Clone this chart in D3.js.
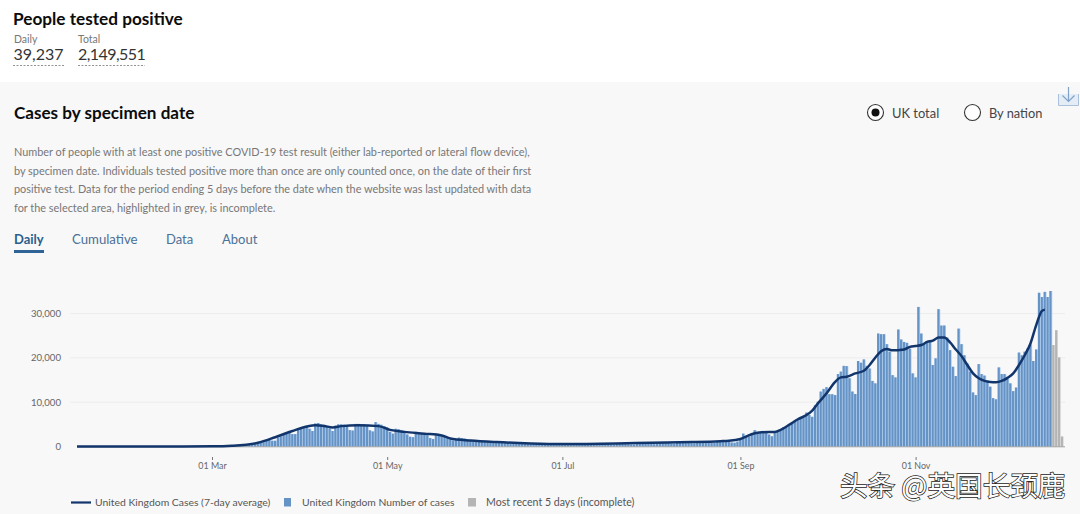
<!DOCTYPE html>
<html><head><meta charset="utf-8">
<script src="https://cdnjs.cloudflare.com/ajax/libs/d3/7.8.5/d3.min.js"></script>
<style>html,body{margin:0;padding:0;background:#fff}svg{display:block}text{font-family:Lato,"Noto Sans",sans-serif}</style>
</head><body><svg id="c" width="1080" height="514"></svg>
<script>
const jan=[0,0,0,0,0,0,0,0,0,0,0,0,0,0,0,0,2,1];
const feb=[0,0,1,0,0,0,0,1,2,1,0,1,0,0,0,0,1,0,0,1,2,3,4,6,10,12,15,18,20];
const mar=[25,40,55,60,70,95,100,120,190,250,320,400,450,430,400,700,950,1150,1250,1300,1500,1300,1300,2000,2300,2700,3000,3100,2800,2800,3700];
const apr=[4100,4200,4400,4000,3500,5200,5300,5000,4900,4600,4050,3500,4700,5000,5000,4900,4700,3700,3600,5100,5100,5000,5000,4600,3650,3400,5500,5100,4900,4600];
const may=[4300,3300,2900,4000,3900,3600,3300,2700,2200,2100,3300,3100,2900,2700,2500,1900,1700,2800,2600,2500,2300,2100,1600,1350,1500,2000,1900,1800,1600,1250,1050];
const jun=[1400,1350,1250,1150,1000,800,750,1100,1050,950,900,800,650,600,900,850,800,750,650,500,480,750,700,650,600,550,420,400,600,580];
const jul=[600,560,520,440,380,570,580,560,540,480,400,380,600,600,560,540,500,420,400,650,620,600,600,540,460,440,700,720,680,650,600];
const aug=[550,520,850,900,850,800,780,650,620,950,1000,1000,950,900,750,700,1100,1100,1050,1000,1050,850,800,1250,1250,1200,1150,1100,900,850,1100];
const sepOn=[1800,2900,2300,2200,2900,3700,3300,3200,3300,3400,2700,2300,3300,3400,3900,4350,4350,5100,5400,5800,6150,6600,6900,7650,7100,6700,9300,10100,12400,13000,13400,11800,11800,11600,
16350,16900,18200,18150,15400,12400,11850,19300,18900,19650,18200,17600,14800,14250,25500,25350,25350,23100,21400,16100,15600,26400,24150,23600,23400,22100,16500,15600,31500,25500,23250,23600,23600,18400,19900,31000,27300,27300,24600,21750,18000,15900,26600,23100,20600,18750,16900,12200,11600,18600,16350,16000,15000,13500,10900,10650,17850,16350,16350,15400,14250,12500,13300,21200,20600,21400,22100,23000,19300,21900,34700,33750,34900,33750,35100,22900,26250,20100,2250];
const monthStarts=["2020-01-14","2020-02-01","2020-03-01","2020-04-01","2020-05-01","2020-06-01","2020-07-01","2020-08-01","2020-09-01"];
const lineDates=["2020-01-14","2020-02-20","2020-03-01","2020-03-08","2020-03-17","2020-03-23","2020-03-29","2020-04-03","2020-04-06","2020-04-09","2020-04-12","2020-04-15","2020-04-21","2020-04-28","2020-05-02","2020-05-07","2020-05-14","2020-05-20","2020-05-23","2020-05-30","2020-06-08","2020-06-20","2020-07-01","2020-07-20","2020-08-01","2020-08-15","2020-08-25","2020-08-28","2020-09-01","2020-09-06","2020-09-11","2020-09-13","2020-09-15","2020-09-18","2020-09-21","2020-09-24","2020-09-26","2020-09-28","2020-10-01","2020-10-04","2020-10-06","2020-10-08","2020-10-11","2020-10-14","2020-10-16","2020-10-18","2020-10-20","2020-10-22","2020-10-24","2020-10-26","2020-10-28","2020-10-30","2020-11-01","2020-11-03","2020-11-05","2020-11-07","2020-11-09","2020-11-11","2020-11-13","2020-11-15","2020-11-17","2020-11-19","2020-11-21","2020-11-23","2020-11-25","2020-11-27","2020-11-29","2020-12-01","2020-12-03","2020-12-05","2020-12-07","2020-12-09","2020-12-11","2020-12-13","2020-12-15","2020-12-16"];
const lineValues=[0,5,30,170,850,2100,3500,4500,4800,4650,4300,4600,4800,4600,3750,3300,2900,2500,1800,1350,1000,700,580,700,850,1000,1200,1300,1700,3000,3300,3300,3750,4900,6150,7100,8100,9750,12000,14600,15600,15750,16500,17100,18400,20100,21500,22000,21700,21750,21900,22500,22700,22900,23600,23900,24600,24600,23500,21900,20400,18400,16500,15400,14800,14550,14500,14800,15500,16500,18400,20600,23250,27400,30600,30900];
const yTicks=[0,10000,20000,30000];
const xTickDates=["2020-03-01","2020-05-01","2020-07-01","2020-09-01","2020-11-01"];
const legendLabels=["United Kingdom Cases (7-day average)","United Kingdom Number of cases","Most recent 5 days (incomplete)"];
const descLines=["Number of people with at least one positive COVID-19 test result (either lab-reported or lateral flow device),","by specimen date. Individuals tested positive more than once are only counted once, on the date of their first","positive test. Data for the period ending 5 days before the date when the website was last updated with data","for the selected area, highlighted in grey, is incomplete."];
const tabs=["Daily","Cumulative","Data","About"];
const incompleteCount=4;

const parse=d3.utcParse("%Y-%m-%d"), DAY=864e5;
const groups=[jan,feb,mar,apr,may,jun,jul,aug,sepOn];
const bars=[];
groups.forEach((g,k)=>g.forEach((v,i)=>bars.push({date:new Date(+parse(monthStarts[k])+i*DAY),value:v})));
const svg=d3.select("#c");
const x=d3.scaleUtc().domain([parse("2020-03-01"),parse("2020-11-01")]).range([212,915.6]);
const y=d3.scaleLinear().domain([0,30000]).range([446.5,313.6]);

const T=(s,px,py,o={})=>svg.append("text").attr("x",px).attr("y",py).text(s)
  .attr("font-size",o.size||11).attr("fill",o.fill||"#333").attr("font-weight",o.weight||400)
  .attr("text-anchor",o.anchor||"start").attr("letter-spacing",o.ls||0);

svg.append("rect").attr("width",1080).attr("height",514).attr("fill","#fff");
svg.append("rect").attr("y",82).attr("width",1080).attr("height",432).attr("fill","#f8f8f9");

// header
T("People tested positive",13,25,{size:17.2,weight:700,fill:"#0b0c0c"});
T("Daily",14,43,{size:10.5,fill:"#777"});
T("Total",78,43,{size:10.5,fill:"#777"});
T("39,237",13.5,60,{size:16,fill:"#333"});
T("2,149,551",78,60,{size:16,fill:"#333",ls:-0.55});
[[13,64],[78,145]].forEach(([a,b])=>svg.append("line").attr("x1",a).attr("x2",b).attr("y1",65.5).attr("y2",65.5).attr("stroke","#777").attr("stroke-width",.8).attr("stroke-dasharray","2 1.5"));
T("Cases by specimen date",14,119,{size:17.1,weight:700,fill:"#0b0c0c"});
[156,175,193,212].forEach((py,i)=>T(descLines[i],14,py,{size:10.9,fill:"#777"}));
[14,72,166,222].forEach((px,i)=>T(tabs[i],px,244,{size:i==1?13.2:13,fill:i?"#4c7196":"#2b5f8e",weight:i?400:700}));
svg.append("rect").attr("x",14).attr("y",250).attr("width",30).attr("height",3).attr("fill","#2f6496");

// radios
svg.append("circle").attr("cx",875.5).attr("cy",112.5).attr("r",8).attr("fill","#fff").attr("stroke","#333").attr("stroke-width",1.1);
svg.append("circle").attr("cx",875.5).attr("cy",112.5).attr("r",4).attr("fill","#111");
svg.append("circle").attr("cx",972.5).attr("cy",112.5).attr("r",8).attr("fill","#fff").attr("stroke","#333").attr("stroke-width",1.1);
T("UK total",892,118,{size:12.9,fill:"#444"});
T("By nation",989,118,{size:12.8,fill:"#444"});

// download icon
svg.append("path").attr("d","M1058.5 94V105.5H1078.5V94").attr("fill","#e4ecf5").attr("stroke","#a9c1dc").attr("stroke-width",1);
svg.append("path").attr("d","M1068.5 87V101.5M1062.5 95.5L1068.5 101.5L1074.5 95.5").attr("fill","none").attr("stroke","#7fa3c9").attr("stroke-width",1.2);

// grid
svg.append("g").selectAll("line").data(yTicks.slice(1)).join("line")
  .attr("x1",70).attr("x2",1065).attr("y1",d=>y(d)).attr("y2",d=>y(d)).attr("stroke","#ececec").attr("stroke-width",1);

// bars: pale halo in the gaps, solid core on top
const n=bars.length;
svg.append("g").selectAll("rect").data(bars).join("rect")
  .attr("x",d=>x(d.date)-1.2).attr("width",2.87)
  .attr("y",d=>y(d.value)).attr("height",d=>y(0)-y(d.value))
  .attr("fill",(d,i)=>i>=n-incompleteCount?"#dcdcdc":"#b0cdec");
svg.append("g").selectAll("rect").data(bars).join("rect")
  .attr("x",d=>x(d.date)-1.2).attr("width",2.1)
  .attr("y",d=>y(d.value)).attr("height",d=>y(0)-y(d.value))
  .attr("fill",(d,i)=>i>=n-incompleteCount?"#b4b4b4":"#6593c6");

// baseline + axes
const gy=svg.append("g").attr("transform","translate(61,0)").call(d3.axisLeft(y).tickValues(yTicks).tickSize(0).tickPadding(0).tickFormat(d3.format(",")));
gy.select(".domain").remove();
gy.selectAll("text").attr("font-size",9.6).attr("fill","#666").attr("font-family","Lato,sans-serif");
svg.append("line").attr("x1",77).attr("x2",1065).attr("y1",446.8).attr("y2",446.8).attr("stroke","#9a9a9a").attr("stroke-width",.9);
const gx=svg.append("g").attr("transform","translate(0,457)").call(d3.axisBottom(x).tickValues(xTickDates.map(parse)).tickSize(3).tickPadding(3).tickFormat(d3.utcFormat("%d %b")));
gx.select(".domain").remove();
gx.selectAll("line").attr("stroke","#777");
gx.selectAll("text").attr("font-size",8.9).attr("fill","#666").attr("font-family","Lato,sans-serif");

// line
const line=d3.line().x((d,i)=>x(parse(d))).y((d,i)=>y(lineValues[i])).curve(d3.curveMonotoneX);
svg.append("path").attr("d",line(lineDates)).attr("fill","none").attr("stroke","#12356b").attr("stroke-width",2.5).attr("stroke-linejoin","round");

// legend
svg.append("line").attr("x1",71).attr("x2",91).attr("y1",502.5).attr("y2",502.5).attr("stroke","#12356b").attr("stroke-width",2.2);
svg.append("rect").attr("x",284).attr("y",498).attr("width",7).attr("height",8.5).attr("fill","#6593c6");
svg.append("rect").attr("x",468).attr("y",498).attr("width",8).attr("height",8.5).attr("fill","#b5b5b5");
[95,302,486].forEach((px,i)=>T(legendLabels[i],px,506,{size:[10.4,10.35,10.6][i],fill:"#555"}));

// watermark
T("头条 @英国长颈鹿",840,496,{size:27.6,fill:"#fff"}).attr("style",'font-family:"Noto Sans CJK SC"').attr("stroke","#222").attr("stroke-width",1.5).attr("paint-order","stroke");
</script></body></html>
